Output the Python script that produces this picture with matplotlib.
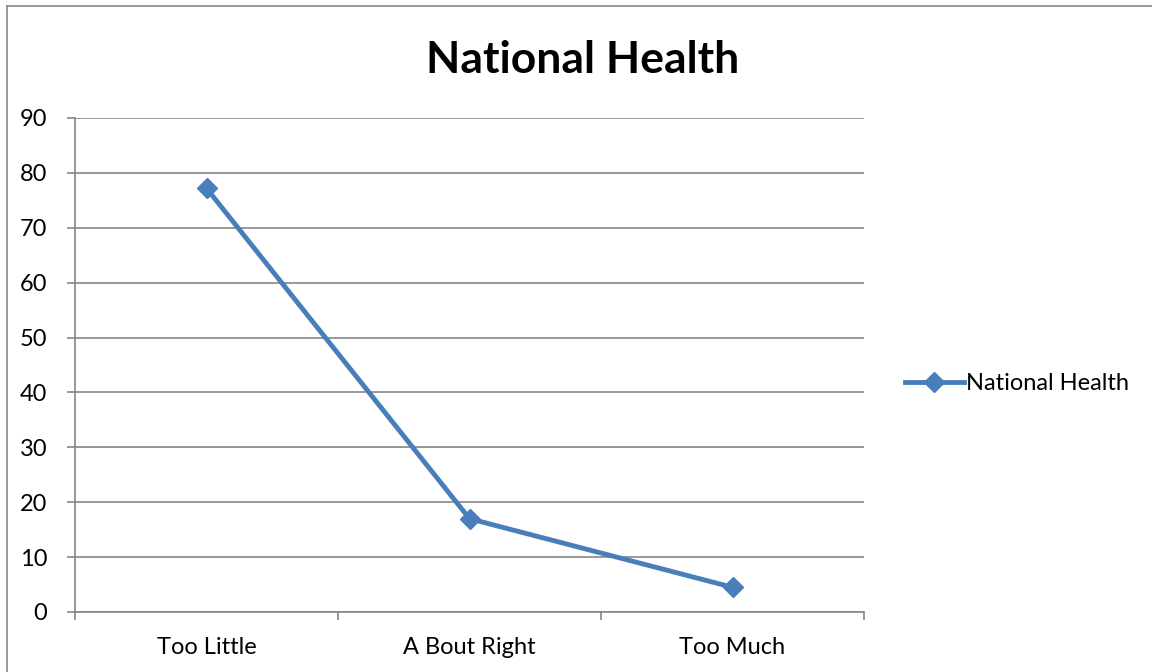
import matplotlib.pyplot as plt
from matplotlib.lines import Line2D

plt.rcParams['font.family'] = ['Lato', 'DejaVu Sans']

categories = ["Too Little", "A Bout Right", "Too Much"]
values = [77.2, 17.0, 4.5]
series_name = "National Health"
y_ticks = [0, 10, 20, 30, 40, 50, 60, 70, 80, 90]

line_color = "#4A7EBB"
grid_color = "#868686"

fig = plt.figure(figsize=(11.52, 6.72), dpi=100)
ax = fig.add_axes([75 / 1152, 60 / 672, 789 / 1152, 494 / 672])

x = [i + 0.5 for i in range(len(categories))]
ax.plot(x, values, color=line_color, linewidth=3.5, marker="D",
        markersize=10, markerfacecolor=line_color, markeredgecolor=line_color,
        label=series_name)

ax.set_xlim(0, len(categories))
ax.set_ylim(0, 90)
ax.set_yticks(y_ticks)
ax.set_yticklabels([str(t) for t in y_ticks], fontsize=17)
ax.yaxis.grid(True, color=grid_color, linewidth=1.2)
ax.set_axisbelow(True)

# category labels sit between the boundary ticks
ax.set_xticks(range(len(categories) + 1))
ax.set_xticklabels([])
ax.set_xticks(x, minor=True)
ax.set_xticklabels(categories, minor=True, fontsize=17)
ax.tick_params(axis="x", which="minor", length=0, pad=18)
ax.tick_params(axis="x", which="major", length=6, color=grid_color, width=1.2)
ax.tick_params(axis="y", length=6, color=grid_color, width=1.2, pad=14)

for side in ("top", "right"):
    ax.spines[side].set_visible(False)
for side in ("left", "bottom"):
    ax.spines[side].set_color(grid_color)
    ax.spines[side].set_linewidth(1.2)

fig.text(583 / 1152, 1 - 60 / 672, "National Health", ha="center", va="center",
         fontsize=32, fontweight="bold")

handle = Line2D([], [], color=line_color, linewidth=3.5, marker="D", markersize=10)
fig.legend([handle], [series_name], loc="center left",
           bbox_to_anchor=(893 / 1152, 1 - 384 / 672), frameon=False,
           fontsize=17, handlelength=2.5, handletextpad=0.1, borderpad=0)

# chart area border (top and left edges)
fig.add_artist(Line2D([7 / 1152, 7 / 1152], [0, 1 - 6 / 672],
                      transform=fig.transFigure, color="#888888", linewidth=1.2))
fig.add_artist(Line2D([7 / 1152, 1], [1 - 6 / 672, 1 - 6 / 672],
                      transform=fig.transFigure, color="#888888", linewidth=1.2))

fig.savefig("out.png", dpi=100)
